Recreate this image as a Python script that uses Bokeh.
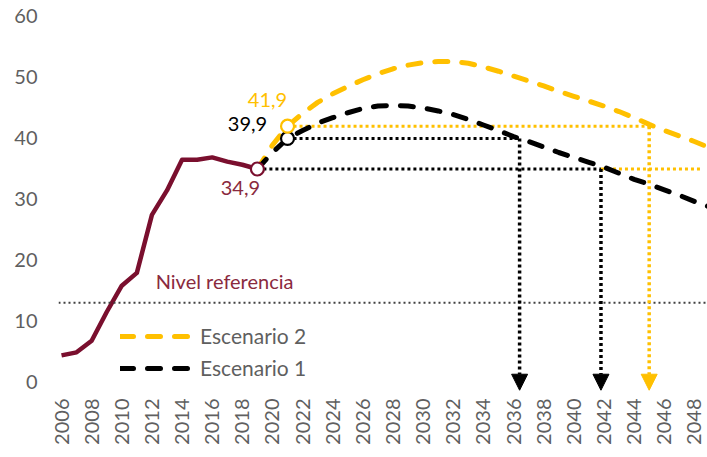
import math
from bokeh.plotting import figure
from bokeh.models import (ColumnDataSource, Span, Arrow, NormalHead, Legend,
                          LegendItem, FixedTicker, Range1d)
from bokeh.embed import file_html
from bokeh.resources import INLINE
from bokeh.core.properties import value

# ---------------- data ----------------
hist_years = list(range(2006, 2020))
hist_values = [4.4, 4.9, 6.8, 11.5, 15.8, 17.9, 27.4, 31.4, 36.4, 36.4, 36.8, 36.1, 35.6, 34.9]

scen_years = list(range(2019, 2051))
esc1 = [34.9, 37.6, 39.9, 41.2, 42.4, 43.3, 44.1, 44.8, 45.2, 45.3, 45.2, 44.9,
        44.4, 43.8, 43.0, 42.1, 41.2, 40.2, 39.4, 38.5, 37.6, 36.8, 36.0, 35.2,
        34.2, 33.2, 32.4, 31.5, 30.6, 29.6, 28.7, 27.8]
esc2 = [34.9, 38.8, 41.9, 44.0, 45.8, 47.2, 48.4, 49.5, 50.5, 51.3, 51.9, 52.3,
        52.5, 52.5, 52.2, 51.6, 50.9, 50.1, 49.3, 48.5, 47.6, 46.8, 46.0, 45.2,
        44.3, 43.3, 42.2, 41.2, 40.3, 39.4, 38.4, 37.4]

ref_level = 13
ref_label = "Nivel referencia"

marker_years = [2019, 2021, 2021]
marker_values = [34.9, 39.9, 41.9]
marker_labels = ["34,9", "39,9", "41,9"]

# horizontal guide lines: start year, end year, level
guide_start = [2021, 2021, 2019, 2041.8]
guide_end = [2045.0, 2036.4, 2041.8, 2048.5]
guide_level = [41.9, 39.9, 34.9, 34.9]

# vertical arrows: year, from level
arrow_years = [2036.4, 2041.8, 2045.0]
arrow_levels = [39.9, 34.9, 41.9]
arrow_tip = -1.3

y_ticks = [0, 10, 20, 30, 40, 50, 60]
x_ticks = list(range(2006, 2049, 2))

series_names = ["Escenario 2", "Escenario 1"]

# ---------------- styles ----------------
MAROON = "#7A0F2E"
MAROON_TXT = "#8A2A3E"
YELLOW = "#FFC000"
BLACK = "#000000"
GREY = "#5F5F5F"
FONT = "Lato"

marker_colors = [MAROON, BLACK, YELLOW]
label_colors = [MAROON_TXT, BLACK, YELLOW]
label_dx = [-17, -40, -20]
label_dy = [19, -14, -26]
guide_colors = [YELLOW, BLACK, BLACK, YELLOW]
arrow_colors = [BLACK, BLACK, YELLOW]

p = figure(width=707, height=457,
           x_range=Range1d(2005.8, 2048.87), y_range=Range1d(-2, 61),
           output_backend="svg", toolbar_location=None,
           min_border_left=58, min_border_right=0,
           min_border_top=9, min_border_bottom=63)
p.outline_line_color = None
p.grid.visible = False
p.background_fill_color = "white"

for ax in (p.xaxis, p.yaxis):
    ax.axis_line_color = None
    ax.major_tick_line_color = None
    ax.minor_tick_line_color = None
    ax.major_tick_out = 0
    ax.major_tick_in = 0
    ax.major_label_text_font = FONT
    ax.major_label_text_font_size = "20px"
    ax.major_label_text_color = GREY

p.yaxis.ticker = FixedTicker(ticks=y_ticks)
p.xaxis.ticker = FixedTicker(ticks=x_ticks)
p.xaxis.major_label_orientation = math.pi / 2
p.xaxis.major_label_standoff = 4
p.yaxis.major_label_standoff = 21

# reference level
p.add_layout(Span(location=ref_level, dimension="width", line_color="#404040",
                  line_width=2, line_dash="2 3"))
p.text(x=[2012.25], y=[ref_level], text=[ref_label], y_offset=-22,
       text_baseline="middle", text_align="left", text_color=MAROON_TXT,
       text_font=value(FONT), text_font_size="20px")

# horizontal guides
gsrc = ColumnDataSource(dict(x0=guide_start, x1=guide_end, y=guide_level, c=guide_colors))
p.segment(x0="x0", y0="y", x1="x1", y1="y", source=gsrc, line_color="c",
          line_width=3, line_dash="3 3")

# vertical arrows
for yr, lv, c in zip(arrow_years, arrow_levels, arrow_colors):
    p.add_layout(Arrow(x_start=yr, y_start=lv, x_end=yr, y_end=arrow_tip,
                       line_color=c, line_width=3.5, line_dash="3 3",
                       end=NormalHead(size=16, fill_color=c, line_color=c, line_width=1)))

# scenarios
r_e2 = p.line(scen_years, esc2, line_color=YELLOW, line_width=5,
              line_dash="13 14", line_cap="round")
r_e1 = p.line(scen_years, esc1, line_color=BLACK, line_width=5,
              line_dash="13 14", line_cap="round")

# history
p.line(hist_years, hist_values, line_color=MAROON, line_width=4.5, line_join="round")

# markers & labels
msrc = ColumnDataSource(dict(x=marker_years, y=marker_values, t=marker_labels,
                             mc=marker_colors, lc=label_colors, dx=label_dx, dy=label_dy))
p.scatter(x="x", y="y", source=msrc, marker="circle", size=13,
          fill_color="white", line_color="mc", line_width=2.2)
p.text(x="x", y="y", text="t", source=msrc, x_offset="dx", y_offset="dy",
       text_align="center", text_baseline="middle", text_color="lc",
       text_font=value(FONT), text_font_size="20px")

legend = Legend(items=[LegendItem(label=series_names[0], renderers=[r_e2]),
                       LegendItem(label=series_names[1], renderers=[r_e1])],
                location=(62, 14), glyph_width=70, glyph_height=20,
                label_height=20, spacing=7, padding=0, margin=0,
                border_line_color=None, background_fill_alpha=0,
                label_text_font=FONT, label_text_font_size="21px",
                label_text_color=GREY, label_standoff=10)
p.add_layout(legend)

open("out.html", "w").write(file_html(p, INLINE))
